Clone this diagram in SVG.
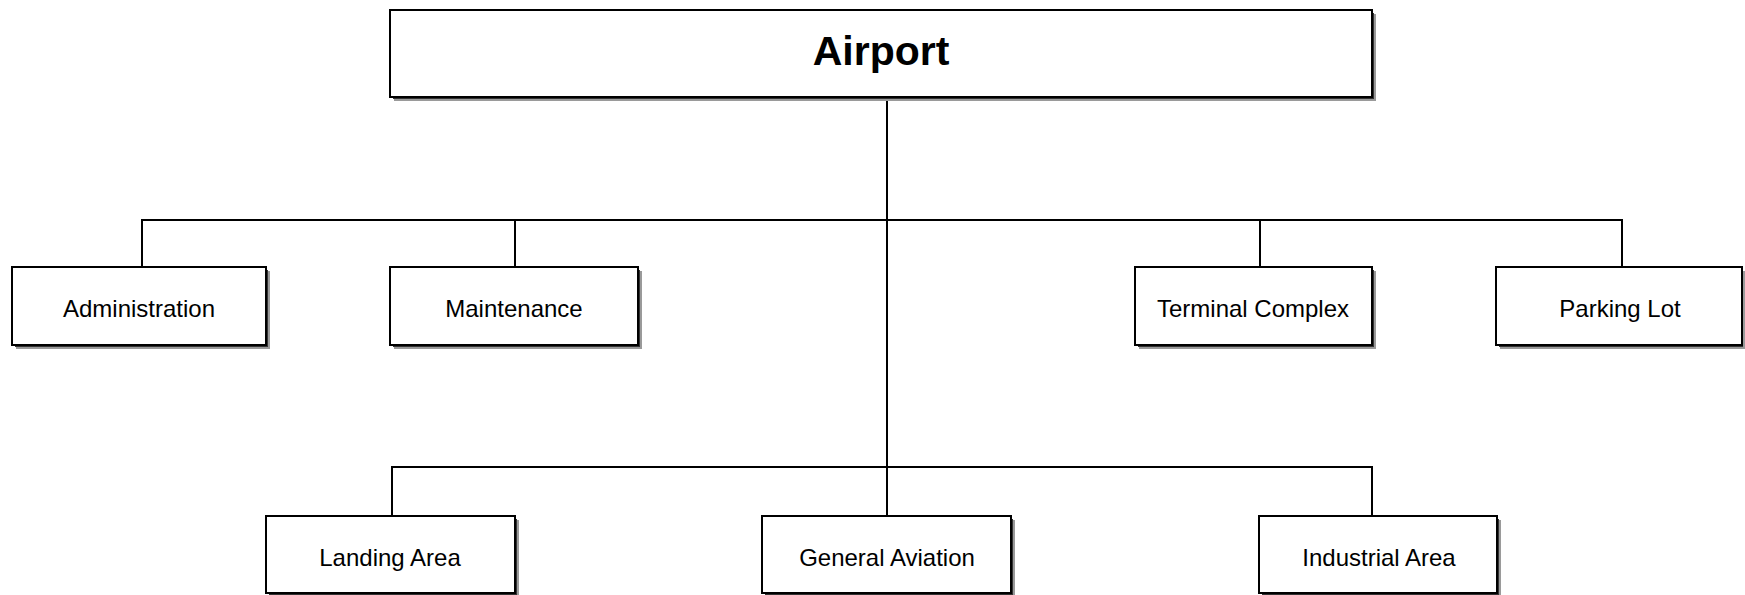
<svg xmlns="http://www.w3.org/2000/svg" width="1745" height="595" viewBox="0 0 1745 595">
<defs>
<style>
.sh1{fill:#9a9a9a;}
.sh2{fill:#333;}
.box{fill:#fff;stroke:#000;stroke-width:2;}
.lbl{font-family:"Liberation Sans",Arial,sans-serif;font-size:24px;fill:#000;text-anchor:middle;}
.ttl{font-family:"Liberation Sans",Arial,sans-serif;font-size:41px;font-weight:bold;fill:#000;text-anchor:middle;}
.conn{fill:none;stroke:#000;stroke-width:2;}
</style>
</defs>
<rect width="1745" height="595" fill="#fff"/>
<g id="connectors">
<path class="conn" d="M887 97V516"/>
<path class="conn" d="M142 267V220H1622V267"/>
<path class="conn" d="M515 220V267"/>
<path class="conn" d="M1260 220V267"/>
<path class="conn" d="M392 516V467H1372V516"/>
</g>
<g id="airport">
<rect class="sh1" x="394" y="14" width="982" height="87"/>
<rect class="sh2" x="393" y="13" width="981" height="86"/>
<rect class="box" x="390" y="10" width="982" height="87"/>
<text class="ttl" x="881" y="65">Airport</text>
</g>
<g id="administration">
<rect class="sh1" x="16" y="271" width="254" height="78"/>
<rect class="sh2" x="15" y="270" width="253" height="77"/>
<rect class="box" x="12" y="267" width="254" height="78"/>
<text class="lbl" x="139" y="317">Administration</text>
</g>
<g id="maintenance">
<rect class="sh1" x="394" y="271" width="248" height="78"/>
<rect class="sh2" x="393" y="270" width="247" height="77"/>
<rect class="box" x="390" y="267" width="248" height="78"/>
<text class="lbl" x="514" y="317">Maintenance</text>
</g>
<g id="terminal-complex">
<rect class="sh1" x="1139" y="271" width="237" height="78"/>
<rect class="sh2" x="1138" y="270" width="236" height="77"/>
<rect class="box" x="1135" y="267" width="237" height="78"/>
<text class="lbl" x="1253" y="317">Terminal Complex</text>
</g>
<g id="parking-lot">
<rect class="sh1" x="1500" y="271" width="245" height="78"/>
<rect class="sh2" x="1499" y="270" width="244" height="77"/>
<rect class="box" x="1496" y="267" width="246" height="78"/>
<text class="lbl" x="1620" y="317">Parking Lot</text>
</g>
<g id="landing-area">
<rect class="sh1" x="270" y="520" width="249" height="77"/>
<rect class="sh2" x="269" y="519" width="248" height="76"/>
<rect class="box" x="266" y="516" width="249" height="77"/>
<text class="lbl" x="390" y="566">Landing Area</text>
</g>
<g id="general-aviation">
<rect class="sh1" x="766" y="520" width="249" height="77"/>
<rect class="sh2" x="765" y="519" width="248" height="76"/>
<rect class="box" x="762" y="516" width="249" height="77"/>
<text class="lbl" x="887" y="566">General Aviation</text>
</g>
<g id="industrial-area">
<rect class="sh1" x="1263" y="520" width="238" height="77"/>
<rect class="sh2" x="1262" y="519" width="237" height="76"/>
<rect class="box" x="1259" y="516" width="238" height="77"/>
<text class="lbl" x="1379" y="566">Industrial Area</text>
</g>
</svg>
